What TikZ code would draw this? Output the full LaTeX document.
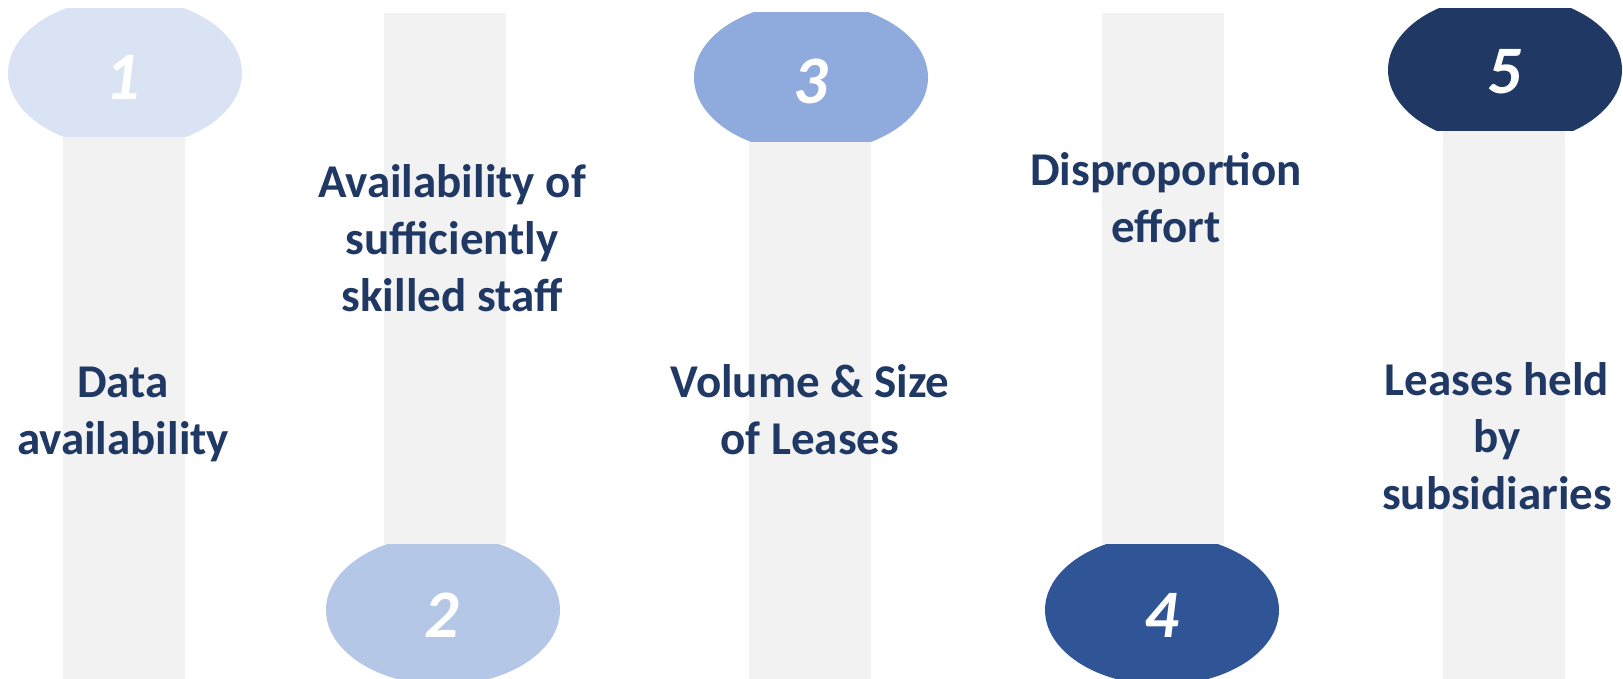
\documentclass[tikz,border=0pt]{standalone}
\usepackage{fontspec}
\setmainfont{Carlito}
\definecolor{barcol}{HTML}{F2F2F2}
\definecolor{txtcol}{HTML}{203864}
\definecolor{cA}{HTML}{DAE3F3}
\definecolor{cB}{HTML}{B4C7E7}
\definecolor{cC}{HTML}{8FAADC}
\definecolor{cD}{HTML}{2F5597}
\definecolor{cE}{HTML}{203864}
\tikzset{
  label/.style={text=txtcol, align=center, inner sep=0pt, anchor=base,
    font=\fontsize{47}{57}\selectfont\bfseries},
  num/.style={text=white, inner sep=0pt, anchor=center,
    font=\fontsize{68}{72}\selectfont\bfseries\itshape},
}
\newcommand{\pillar}[3]{\fill[barcol] (#1-61,#2) rectangle (#1+61,#3);}
\newcommand{\capshape}[5]{%
  \begin{scope}
    \clip (#1-120,#3) rectangle (#1+120,#4);
    \fill[#5] (#1,#2) ellipse [x radius=117pt, y radius=75pt];
  \end{scope}}
\begin{document}
\begin{tikzpicture}[x=1pt,y=-1pt]
\useasboundingbox (0,0) rectangle (1623,679);
% bars
\pillar{124}{137}{679}
\pillar{445}{13}{544}
\pillar{810}{142}{679}
\pillar{1163}{13}{544}
\pillar{1504}{131}{679}
% ellipses
\capshape{125}{73}{9}{137}{cA}
\capshape{443}{610}{544}{679}{cB}
\capshape{811}{77.5}{13}{142}{cC}
\capshape{1162}{610}{544}{679}{cD}
\capshape{1505}{70}{9}{131}{cE}
% numbers
\node[num] (n1) at (123,77) {1};
\node[num] (n2) at (442,615) {2};
\node[num] (n3) at (811,81) {3};
\node[num] (n4) at (1162,615) {4};
\node[num] (n5) at (1505,72) {5};
% labels
\node[label] (t1) at (123,454) {Data\\availability};
\node[label] (t2) at (452,311) {Availability of\\sufficiently\\skilled staff};
\node[label] (t3) at (810,454) {Volume \& Size\\of Leases};
\node[label] (t4) at (1166,243) {Disproportion\\effort};
\node[label] (t5) at (1497,509) {Leases held\\by\\subsidiaries};
\end{tikzpicture}
\end{document}
